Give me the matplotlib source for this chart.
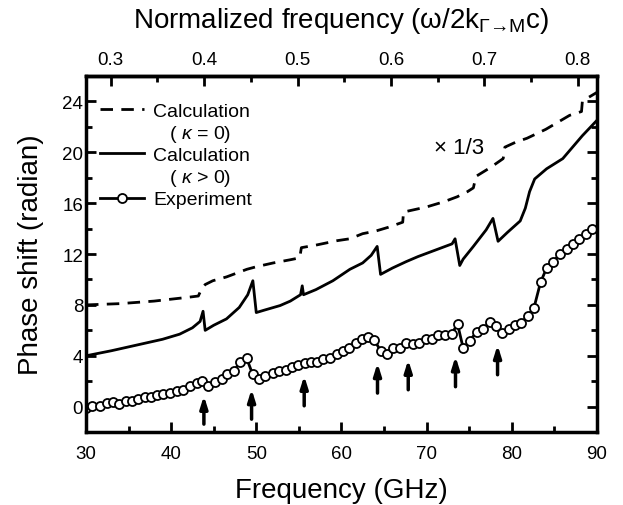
import matplotlib

matplotlib.use("Agg")
import matplotlib.pyplot as plt
from matplotlib.lines import Line2D
from matplotlib.ticker import MultipleLocator, FixedLocator

plt.rcParams["font.family"] = ["Liberation Sans", "DejaVu Sans"]
plt.rcParams["mathtext.fontset"] = "custom"
plt.rcParams["mathtext.rm"] = "Liberation Sans"
plt.rcParams["mathtext.it"] = "Liberation Sans:italic"

# calculation, kappa = 0 (scaled x1/3)
calc0_f = [30, 32, 34, 36, 38, 40, 42, 43.2, 43.6, 44.0, 44.9, 46.5, 48.9, 50, 52, 54,
           55.1, 55.3, 57, 59.5, 61, 62.5, 64, 65.5, 67.2, 67.3, 70, 72, 73.6, 74.8, 75.5,
           75.8, 77.5, 79.0, 79.2, 80.5, 81.8, 84, 86.8, 88.2, 88.3, 89, 90]
calc0_v = [8.0, 8.05, 8.1, 8.2, 8.3, 8.45, 8.6, 8.7, 9.3, 9.6, 9.9, 10.2, 10.8, 11.0, 11.3, 11.55,
           11.7, 12.5, 12.7, 13.05, 13.2, 13.6, 13.8, 14.1, 14.5, 15.3, 15.7, 16.1, 16.5, 16.9, 17.2,
           18.1, 18.8, 19.5, 20.4, 20.8, 21.1, 21.8, 22.9, 23.2, 24.0, 24.3, 24.7]

# calculation, kappa > 0
calc1_f = [30, 33, 36, 39, 41, 42.5, 43.4, 43.75, 44.0, 45, 46.5, 48, 49.0, 49.6, 50.0, 51,
           52.8, 54, 55.2, 55.4, 55.55, 57, 59, 61, 62.5, 63.5, 64.2, 64.6, 66, 67.6, 69, 71,
           73.0, 73.35, 73.9, 74.3, 75.5, 77, 77.8, 78.4, 79.5, 81.0, 81.6, 82.1, 82.7, 84.1,
           86.0, 88.3, 90]
calc1_v = [4.0, 4.4, 4.85, 5.3, 5.7, 6.2, 6.7, 7.5, 6.0, 6.4, 6.9, 7.8, 8.8, 9.9, 7.4, 7.6,
           7.95, 8.3, 8.8, 9.5, 8.8, 9.2, 9.9, 10.8, 11.3, 11.9, 12.6, 10.4, 10.9, 11.4, 11.8, 12.3,
           12.8, 13.2, 11.1, 11.6, 12.6, 13.9, 14.8, 13.0, 13.7, 14.6, 15.6, 16.9, 17.9, 18.7,
           19.5, 21.3, 22.5]

# experiment
exp_f = [30.0, 30.67, 31.64, 32.43, 33.13, 33.87, 34.70, 35.36, 36.14, 36.93, 37.60, 38.37, 39.08,
         39.86, 40.65, 41.35, 42.21, 43.00, 43.66, 44.36, 45.15, 45.93, 46.59, 47.38, 48.08,
         48.87, 49.57, 50.35, 51.05, 51.92, 52.66, 53.44, 54.22, 54.93, 55.71, 56.42, 57.16,
         57.86, 58.65, 59.43, 60.14, 60.88, 61.67, 62.37, 63.15, 63.85, 64.60, 65.38, 66.08,
         66.87, 67.57, 68.36, 69.14, 69.92, 70.59, 71.37, 72.15, 72.94, 73.64, 74.30, 75.09,
         75.87, 76.65, 77.43, 78.14, 78.88, 79.67, 80.37, 81.15, 81.86, 82.60, 83.39, 84.09,
         84.87, 85.65, 86.44, 87.20, 87.92, 88.71, 89.45]
exp_v = [-0.1, 0.02, 0.07, 0.28, 0.33, 0.23, 0.47, 0.47, 0.60, 0.73, 0.73, 0.91, 0.99,
         1.07, 1.25, 1.33, 1.64, 1.83, 1.99, 1.64, 1.96, 2.17, 2.56, 2.82, 3.48,
         3.80, 2.56, 2.17, 2.43, 2.64, 2.78, 2.90, 3.09, 3.30, 3.43, 3.48, 3.48,
         3.74, 3.80, 4.14, 4.40, 4.58, 5.00, 5.32, 5.45, 5.26, 4.40, 4.14, 4.58,
         4.63, 5.00, 4.92, 4.97, 5.32, 5.32, 5.66, 5.66, 5.71, 6.50, 4.61, 5.18,
         5.89, 6.10, 6.68, 6.36, 5.77, 6.10, 6.42, 6.58, 7.15, 7.73, 9.78, 10.88,
         11.40, 12.0, 12.40, 12.79, 13.15, 13.58, 13.97]

# arrows marking resonances
arrow_f = [43.85, 49.45, 55.63, 64.24, 67.85, 73.4, 78.34]
arrow_bottom = [-1.37, -0.98, 0.07, 1.07, 1.33, 1.57, 2.51]
arrow_top = [0.86, 1.38, 2.43, 3.43, 3.69, 3.96, 4.85]

norm_ticks = [0.3, 0.4, 0.5, 0.6, 0.7, 0.8]
GHZ_PER_NORM = 109.7

fig = plt.figure(figsize=(6.23, 5.06), dpi=100)
ax = fig.add_axes([0.138, 0.144, 0.820, 0.704])

ax.plot(calc0_f, calc0_v, color="k", lw=2, ls=(0, (4.5, 3)))
ax.plot(calc1_f, calc1_v, color="k", lw=2)
ax.plot(exp_f, exp_v, color="k", lw=2, marker="o", ms=6.5, mfc="white", mew=1.3)

for f, b, t in zip(arrow_f, arrow_bottom, arrow_top):
    ax.annotate("", xy=(f, t), xytext=(f, b),
                arrowprops=dict(arrowstyle="-|>,head_length=0.7,head_width=0.22",
                                lw=2.5, color="k", shrinkA=0, shrinkB=0))

ax.text(73.8, 20.4, "× 1/3", fontsize=16, ha="center", va="center")

ax.set_xlim(30, 90)
ax.set_ylim(-2, 26)
ax.xaxis.set_major_locator(MultipleLocator(10))
ax.xaxis.set_minor_locator(MultipleLocator(5))
ax.yaxis.set_major_locator(MultipleLocator(4))
ax.yaxis.set_minor_locator(MultipleLocator(2))
ax.tick_params(which="both", direction="in", top=False, right=True, width=2)
ax.tick_params(which="major", length=7, labelsize=13.5)
ax.tick_params(which="minor", length=4)
ax.tick_params(axis="x", which="major", pad=9)
ax.tick_params(axis="y", which="major", pad=2)
for s in ax.spines.values():
    s.set_linewidth(2.5)

ax.set_xlabel("Frequency (GHz)", fontsize=20, labelpad=11)
ax.set_ylabel("Phase shift (radian)", fontsize=20, labelpad=13)

top = ax.secondary_xaxis("top", functions=(lambda f: f / GHZ_PER_NORM,
                                           lambda n: n * GHZ_PER_NORM))
top.xaxis.set_major_locator(FixedLocator(norm_ticks))
top.xaxis.set_minor_locator(FixedLocator([t + 0.05 for t in norm_ticks[:-1]]))
top.tick_params(which="both", direction="in", width=2)
top.tick_params(which="major", length=7, labelsize=13.5, pad=6)
top.tick_params(which="minor", length=4)
top.spines["top"].set_linewidth(2.5)
top.set_xlabel(r"Normalized frequency (ω/2k$_{\mathrm{Γ→M}}$c)", fontsize=20, labelpad=17)

handles = [
    Line2D([], [], color="k", lw=2, ls=(0, (4.5, 3))),
    Line2D([], [], color="none"),
    Line2D([], [], color="k", lw=2),
    Line2D([], [], color="none"),
    Line2D([], [], color="k", lw=2, marker="o", ms=6.5, mfc="white", mew=1.3),
]
labels = ["Calculation", r"   ( $\kappa$ = 0)", "Calculation", r"   ( $\kappa$ > 0)", "Experiment"]
ax.legend(handles, labels, loc="upper left", bbox_to_anchor=(0.0, 0.965), frameon=False,
          fontsize=14, handlelength=2.3, handletextpad=0.45, labelspacing=0.15,
          borderaxespad=0.3)

fig.savefig("out.png", dpi=100)
